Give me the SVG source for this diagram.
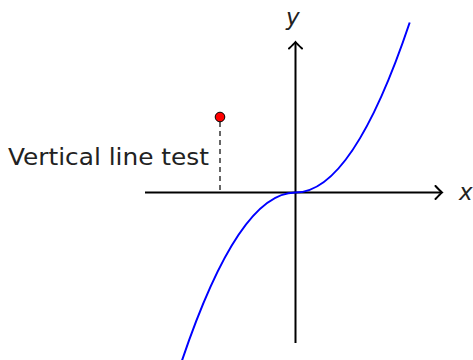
<svg xmlns="http://www.w3.org/2000/svg" width="473" height="360" viewBox="0 0 473 360">
<style>
.axis{stroke:#000;stroke-width:2;fill:none}
.lbl{font-family:"DejaVu Sans","Liberation Sans",sans-serif;fill:#222}
</style>
<defs>
<marker id="arr" viewBox="-10 -8 12 16" markerWidth="12" markerHeight="16" refX="0" refY="0" orient="auto" markerUnits="userSpaceOnUse">
<path d="M -6.5,-6.5 Q -1.5,-1.2 0,0 Q -1.5,1.2 -6.5,6.5" fill="none" stroke="#000" stroke-width="2" stroke-linecap="round"/>
</marker>
</defs>
<rect width="473" height="360" fill="#fff"/>
<g id="connectors">
<line id="x-axis" class="axis" x1="145" y1="192.5" x2="442" y2="192.5" marker-end="url(#arr)"/>
<line id="y-axis" class="axis" x1="295.5" y1="343" x2="295.5" y2="42" marker-end="url(#arr)"/>
<path id="curve" d="M 180,366.5 Q 237.75,192.5 295.5,192.5 Q 352.6,192.5 409.7,22.5" fill="none" stroke="#0000ff" stroke-width="2"/>
<line id="dashed" x1="220" y1="122" x2="220" y2="192" stroke="#000" stroke-width="1.2" stroke-dasharray="5,4"/>
</g>
<g id="label-x"><text class="lbl" x="459" y="200" font-size="23" font-style="italic">x</text></g>
<g id="label-y"><text class="lbl" x="286" y="25" font-size="23" font-style="italic">y</text></g>
<g id="point"><circle cx="220" cy="117" r="4.8" fill="#ff0000" stroke="#000" stroke-width="1"/></g>
<g id="label-test"><text class="lbl" x="8" y="165" font-size="23" textLength="201" lengthAdjust="spacingAndGlyphs">Vertical line test</text></g>
</svg>
